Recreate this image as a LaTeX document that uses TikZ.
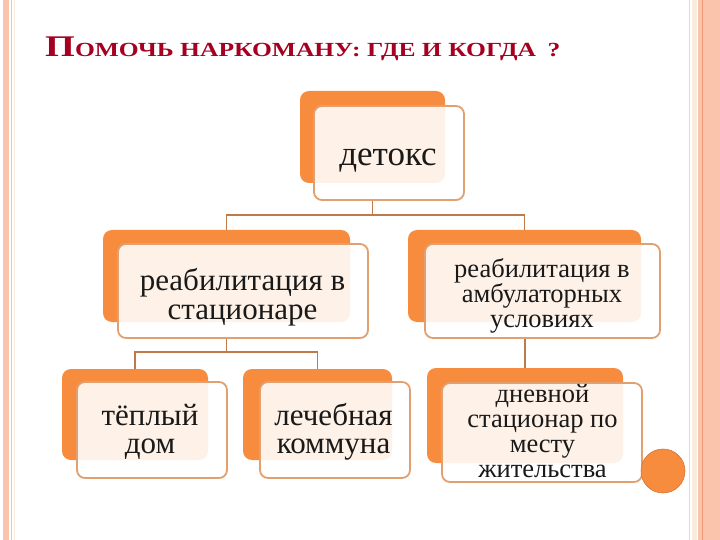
\documentclass[tikz,border=0pt]{standalone}
\usepackage{fontspec}
\usepackage{graphicx}
\setmainfont{Liberation Serif}
\usetikzlibrary{backgrounds}
\definecolor{orangeb}{RGB}{247,140,62}
\definecolor{frontline}{RGB}{226,160,112}
\definecolor{connc}{RGB}{190,122,72}
\definecolor{titlered}{RGB}{165,0,33}
\definecolor{salmon}{RGB}{250,196,172}
\definecolor{salmondk}{RGB}{240,152,122}
\definecolor{creamln}{RGB}{250,236,220}
\newcommand\fsz[2]{\fontsize{#1}{#2}\selectfont}
\begin{document}
\begin{tikzpicture}[x=1pt,y=-1pt,
  backbox/.style={rectangle, fill=orangeb, draw=none, rounded corners=9pt, inner sep=0pt},
  frontbox/.style={rectangle, fill=white, fill opacity=0.88, draw=frontline, draw opacity=1, line width=1.8pt, rounded corners=8pt, inner sep=0pt},
  lbl/.style={align=center, inner sep=0pt, text=black!90, anchor=base},
  conn/.style={draw=connc, line width=1.8pt},
  dot/.style={circle, fill=orangeb, draw=orangeb!85!black, line width=0.6pt, inner sep=0pt, minimum size=44pt}]
\useasboundingbox (0,0) rectangle (720,540);

% title
\node[anchor=base west, inner sep=0pt, text=titlered] (title) at (45,57)
  {\resizebox{515pt}{\height}{\bfseries\fsz{30}{30}П\fsz{20}{20}ОМОЧЬ НАРКОМАНУ: ГДЕ И КОГДА\hspace{9pt}?}};

% back boxes
\node[backbox, minimum width=145pt, minimum height=92pt] (detoxB) at (372.5,137) {};
\node[backbox, minimum width=247pt, minimum height=92pt] (reabAB) at (226.5,276) {};
\node[backbox, minimum width=233pt, minimum height=92pt] (reabBB) at (524.5,276) {};
\node[backbox, minimum width=146pt, minimum height=91pt] (teplB) at (135,414.5) {};
\node[backbox, minimum width=149pt, minimum height=91pt] (kommB) at (317.5,414.5) {};
\node[backbox, minimum width=196pt, minimum height=95pt] (dnevB) at (525,415.5) {};

% front boxes
\node[frontbox, minimum width=150pt, minimum height=94pt] (detox) at (389,153) {};
\node[frontbox, minimum width=250pt, minimum height=94pt] (reabA) at (243,291) {};
\node[frontbox, minimum width=235pt, minimum height=94pt] (reabB) at (542.5,291) {};
\node[frontbox, minimum width=150pt, minimum height=96pt] (tepl) at (152,430) {};
\node[frontbox, minimum width=150pt, minimum height=96pt] (komm) at (335,430) {};
\node[frontbox, minimum width=200pt, minimum height=99pt] (dnev) at (542,432.5) {};

% texts (base = baseline of last line)
\node[lbl, font=\fsz{35}{35}] (detoxT) at (388,166) {детокс};
\node[lbl, font=\fsz{31}{29}] (reabAT) at (242.5,319) {реабилитация в\\стационаре};
\node[lbl, font=\fsz{26.5}{25}] (reabBT) at (542,327) {реабилитация в\\амбулаторных\\условиях};
\node[lbl, font=\fsz{31}{28}] (teplT) at (150,453) {тёплый\\дом};
\node[lbl, font=\fsz{31}{28}] (kommT) at (333.5,453) {лечебная\\коммуна};
\node[lbl, font=\fsz{26.5}{25}] (dnevT) at (542.5,477) {дневной\\стационар по\\месту\\жительства};

% circle
\node[dot] (circ) at (663,471) {};

\begin{pgfonlayer}{background}
  \fill[white] (0,0) rectangle (720,540);
  % borders
  \fill[salmon] (3,0) rectangle (9,540);
  \draw[salmon, line width=1pt] (11.5,0) -- (11.5,540);
  \draw[creamln, line width=1pt] (14.5,0) -- (14.5,540);
  \draw[salmon!80, line width=1.5pt] (689.5,0) -- (689.5,540);
  \fill[creamln] (692,0) rectangle (697,540);
  \fill[salmon] (698,0) rectangle (720,540);
  \draw[salmondk, line width=1pt] (702,0) -- (702,540);
  % connectors
  \coordinate (j1) at (372.5,215);
  \coordinate (j2) at (226.5,352);
  \draw[conn] (detoxB.center |- detox.south) -- (j1);
  \draw[conn] (reabAB.north) |- (j1) -| (reabBB.north);
  \draw[conn] (reabAB.center |- reabA.south) -- (j2);
  \draw[conn] (teplB.north) |- (j2) -| (kommB.north);
  \draw[conn] (dnevB.north |- reabB.south) -- (dnevB.north);
\end{pgfonlayer}
\end{tikzpicture}
\end{document}
